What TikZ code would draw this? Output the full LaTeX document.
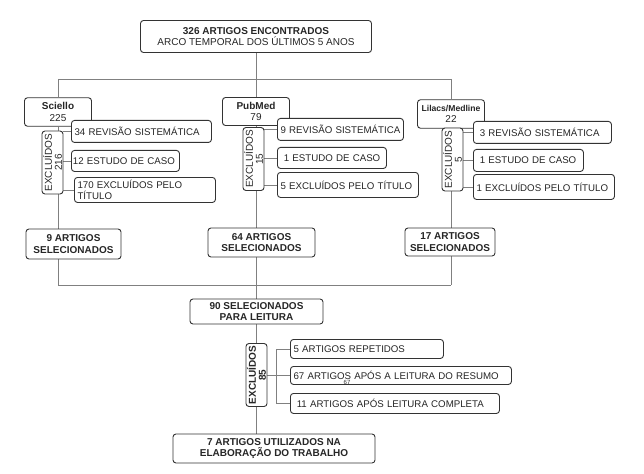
\documentclass[tikz,border=0pt]{standalone}
\usepackage{fontspec}
\setmainfont{Liberation Sans}
\hyphenpenalty=10000
\exhyphenpenalty=10000
\pgfdeclarelayer{bg}
\pgfsetlayers{bg,main}
\begin{document}
\begin{tikzpicture}[x=1pt,y=-1pt,
  bx/.style={draw=black!80, line width=0.9pt, rounded corners=3pt, fill=white, inner sep=1pt, align=center, text=black!85, font=\fontsize{10}{11.5}\selectfont},
  bbx/.style={bx, font=\fontsize{10}{11.5}\selectfont\bfseries},
  sub/.style={bx, anchor=north west, align=left, inner xsep=1.5pt, inner ysep=1pt, font=\fontsize{9.7}{11}\selectfont},
  exc/.style={bx, rotate=90, minimum width=63pt, minimum height=21pt, font=\fontsize{10}{10}\selectfont},
  conn/.style={draw=black!50, line width=0.8pt}]
\useasboundingbox (0,0) rectangle (644,473);

% top
\node[bx, minimum width=231pt, minimum height=32pt] (top) at (256,36.5)
  {\textbf{326 ARTIGOS ENCONTRADOS}\\ARCO TEMPORAL DOS ÚLTIMOS 5 ANOS};

% sources
\node[bx, minimum width=67pt, minimum height=28.5pt] (sci) at (58,112) {\textbf{Sciello}\\225};
\node[bx, minimum width=67pt, minimum height=28pt] (pub) at (256,111.5) {\textbf{PubMed}\\79};
\node[bx, minimum width=67pt, minimum height=28.5pt, font=\fontsize{8.6}{11}\selectfont] (lil) at (451,114) {\textbf{Lilacs/Medline}\\\fontsize{10}{11}\selectfont 22};

% excluded boxes
\node[exc] (exc1) at (52.5,162.5) {EXCLUÍDOS\\216};
\node[exc] (exc2) at (253.5,159) {EXCLUÍDOS\\15};
\node[exc] (exc3) at (452.5,159.5) {EXCLUÍDOS\\5};

% sub boxes
\node[sub, text width=137pt, minimum height=22pt] (a1) at (71,120) {\mbox{\,34 REVISÃO SISTEMÁTICA}};
\node[sub, text width=105pt, minimum height=21pt] (a2) at (71,150) {\mbox{12 ESTUDO DE CASO}};
\node[sub, text width=138pt, minimum height=25pt] (a3) at (74,177) {\,170 EXCLUÍDOS PELO\\\,TÍTULO};

\node[sub, text width=123pt, minimum height=22pt] (b1) at (277,118) {\mbox{\,9 REVISÃO SISTEMÁTICA}};
\node[sub, text width=106pt, minimum height=21pt] (b2) at (277,147) {\mbox{\,\,\,1 ESTUDO DE CASO}};
\node[sub, text width=138pt, minimum height=25pt] (b3) at (277,172) {\mbox{\,5 EXCLUÍDOS PELO TÍTULO}};

\node[sub, text width=135pt, minimum height=22pt] (c1) at (473,121) {\mbox{\,\,\,3 REVISÃO SISTEMÁTICA}};
\node[sub, text width=107pt, minimum height=22pt] (c2) at (473,149) {\mbox{\,\,\,1 ESTUDO DE CASO}};
\node[sub, text width=138pt, minimum height=25pt] (c3) at (473,174) {\mbox{\,1 EXCLUÍDOS PELO TÍTULO}};

% selected
\node[bbx, minimum width=95pt, minimum height=30pt] (s1) at (73.5,244) {9 ARTIGOS\\SELECIONADOS};
\node[bbx, minimum width=107pt, minimum height=29pt] (s2) at (261.5,242.5) {64 ARTIGOS\\SELECIONADOS};
\node[bbx, minimum width=90pt, minimum height=28pt] (s3) at (450,242) {17 ARTIGOS\\SELECIONADOS};

% lower part
\node[bbx, minimum width=133pt, minimum height=25pt, font=\fontsize{10}{11}\selectfont\bfseries] (n90) at (256.5,311.5) {90 SELECIONADOS\\PARA LEITURA};
\node[exc, font=\fontsize{10}{10}\selectfont\bfseries] (exc4) at (256.5,375) {EXCLUÍDOS\\85};
\node[sub, text width=150pt, minimum height=19pt] (d1) at (290,339) {\mbox{\,5 ARTIGOS REPETIDOS}};
\node[sub, text width=218pt, minimum height=18pt] (d2) at (290,366) {\mbox{\,67 ARTIGOS APÓS A LEITURA DO RESUMO}};
\node[sub, text width=206pt, minimum height=20pt] (d3) at (290,393) {\mbox{\,\,\,11 ARTIGOS APÓS LEITURA COMPLETA}};
\node[font=\fontsize{6}{6}\selectfont, text=black!80, inner sep=0pt] (t67) at (347,382) {67};
\node[bbx, minimum width=202pt, minimum height=29pt] (n7) at (274,448.5) {7 ARTIGOS UTILIZADOS NA\\ELABORAÇÃO DO TRABALHO};

\coordinate (hl) at (0,79);
\coordinate (bl) at (0,285);
\coordinate (br) at (276,0);

\begin{pgfonlayer}{bg}
\draw[conn] (top.south) -- (top.south |- hl);
\draw[conn] (sci |- hl) -- (lil |- hl);
\draw[conn] (sci |- hl) -- (sci.north);
\draw[conn] (pub |- hl) -- (pub.north);
\draw[conn] (lil |- hl) -- (lil.north);
\draw[conn] (sci.south) -- (sci |- bl);
\draw[conn] (pub.south) -- (pub |- bl);
\draw[conn] (lil.south) -- (lil |- bl);
\draw[conn] (sci |- bl) -- (lil |- bl);
\draw[conn] (n90.north |- bl) -- (n90.north);
\draw[conn] (n90.south) -- (n90.south |- n7.north);
\foreach \e/\s in {exc1/a1,exc1/a2,exc1/a3,exc2/b1,exc2/b2,exc2/b3,exc3/c1,exc3/c2,exc3/c3}
  \draw[conn] (\s.west -| \e.south) -- (\s.west);
\draw[conn] (d2.west -| exc4.center) -- (d2.west);
\draw[conn] (d1.west) -- (d1.west -| br) -- (d3.west -| br) -- (d3.west);
\end{pgfonlayer}
\end{tikzpicture}
\end{document}
